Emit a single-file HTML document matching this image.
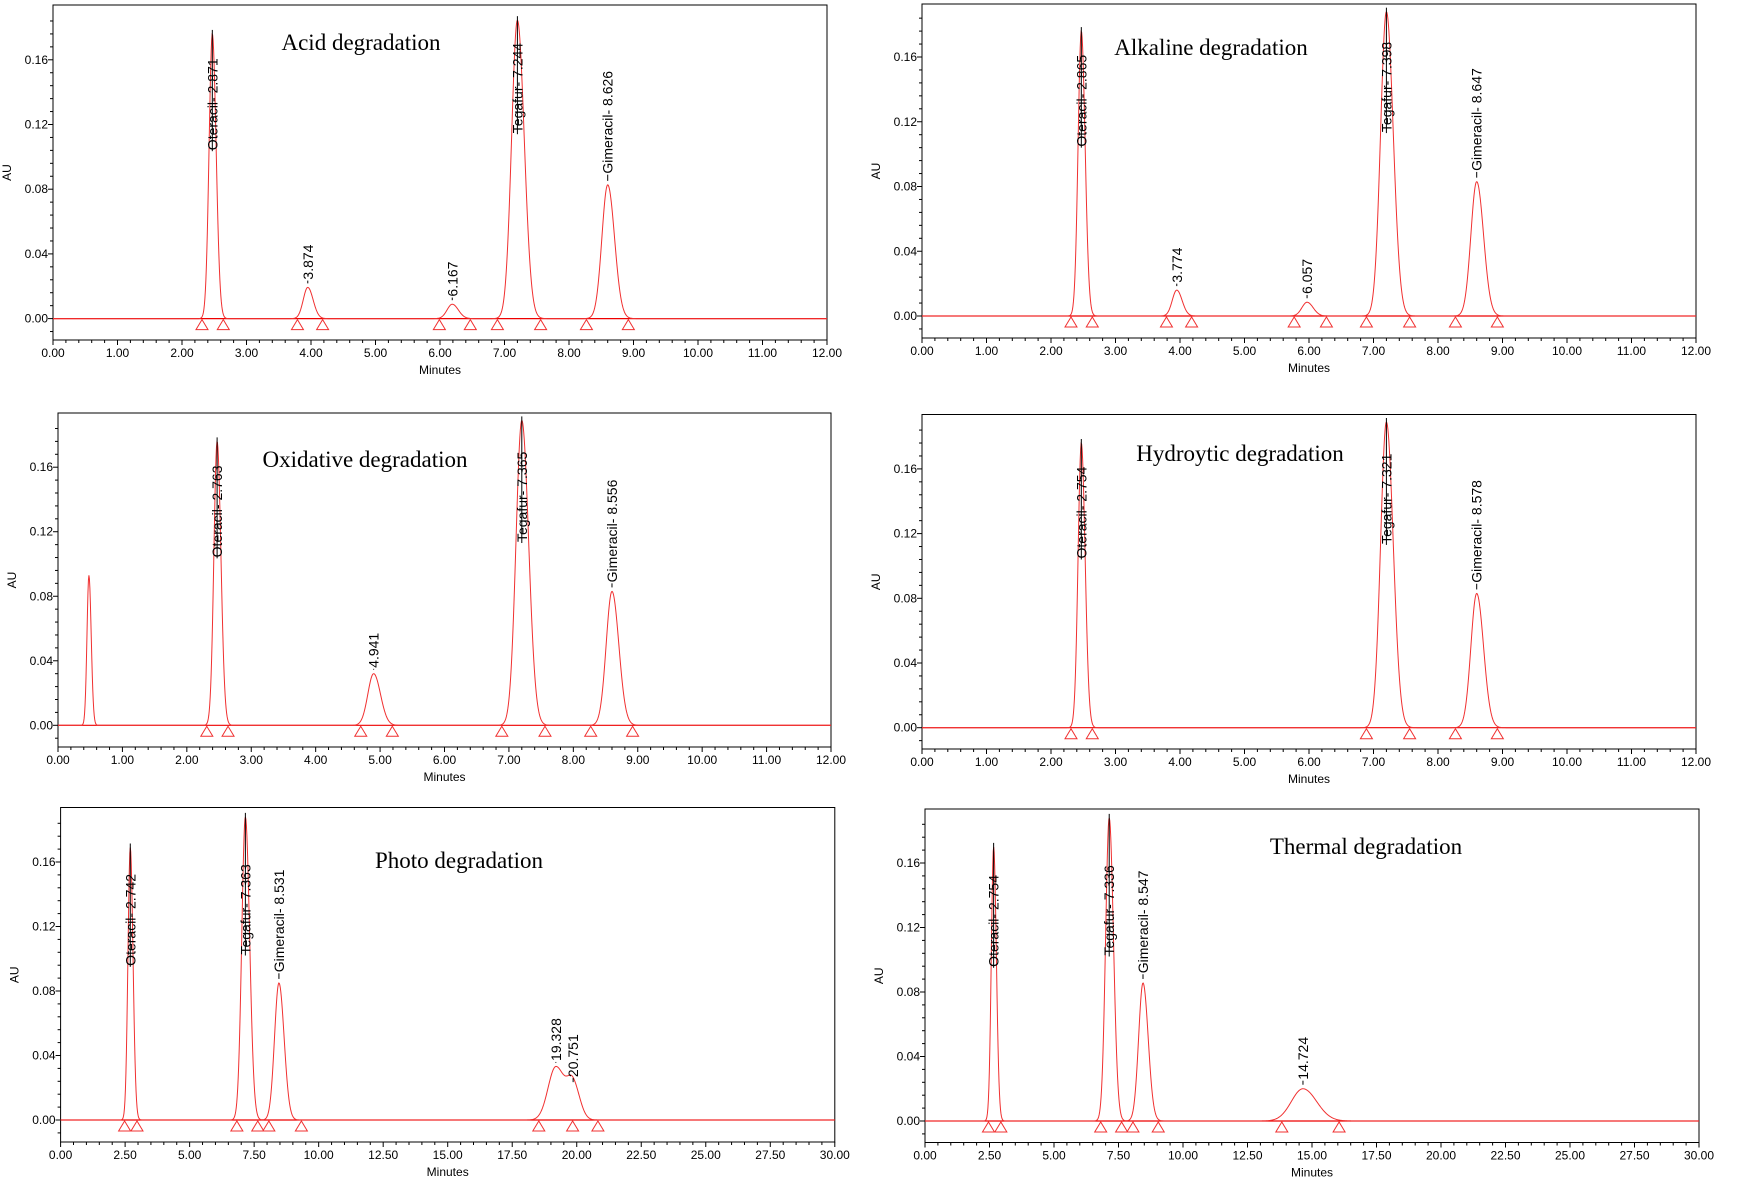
<!DOCTYPE html>
<html><head><meta charset="utf-8"><style>
html,body{margin:0;padding:0;background:#fff}
svg{display:block}
text{font-family:"Liberation Sans",Arial,sans-serif}
.title{font-family:"Liberation Serif","Times New Roman",serif;font-size:23px}
</style></head><body>
<svg id="chart" width="1738" height="1193" viewBox="0 0 1738 1193" xmlns="http://www.w3.org/2000/svg"></svg>
<script>
// ---- data (retention positions in minutes, heights in AU) ----
const acidTimes=[2.47,3.95,6.19,7.2,8.6];
const acidHeights=[0.176,0.0193,0.0089,0.1845,0.0827];
const acidSigmas=[0.05,0.07,0.08,0.09,0.09];
const acidLabels=["Oteracil- 2.871","3.874","6.167","Tegafur- 7.244","Gimeracil- 8.626"];
const acidLabelAU=[0.1035,0.0235,0.013,0.114,0.089];
const acidMarks=[2.31,2.64,3.79,4.18,5.99,6.47,6.89,7.56,8.27,8.92];

const alkTimes=[2.47,3.95,5.97,7.2,8.6];
const alkHeights=[0.176,0.016,0.0085,0.188,0.083];
const alkSigmas=[0.05,0.07,0.08,0.09,0.09];
const alkLabels=["Oteracil- 2.865","3.774","6.057","Tegafur- 7.398","Gimeracil- 8.647"];
const alkLabelAU=[0.104,0.02,0.013,0.113,0.089];
const alkMarks=[2.31,2.64,3.79,4.18,5.77,6.27,6.89,7.56,8.27,8.92];

const oxTimes=[0.48,2.47,4.9,7.2,8.6];
const oxHeights=[0.093,0.176,0.032,0.189,0.083];
const oxSigmas=[0.03,0.05,0.09,0.09,0.09];
const oxLabels=["","Oteracil- 2.763","4.941","Tegafur- 7.365","Gimeracil- 8.556"];
const oxLabelAU=[0,0.1035,0.035,0.113,0.088];
const oxMarks=[2.31,2.64,4.7,5.19,6.89,7.56,8.27,8.92];

const hydTimes=[2.47,7.2,8.6];
const hydHeights=[0.176,0.189,0.083];
const hydSigmas=[0.05,0.09,0.09];
const hydLabels=["Oteracil- 2.754","Tegafur- 7.321","Gimeracil- 8.578"];
const hydLabelAU=[0.104,0.113,0.089];
const hydMarks=[2.31,2.64,6.89,7.56,8.27,8.92];

const phoTimes=[2.70,7.16,8.46,19.19,19.86];
const phoHeights=[0.169,0.188,0.085,0.033,0.021];
const phoSigmas=[0.09,0.14,0.17,0.3,0.22];
const phoLabels=["Oteracil- 2.742","Tegafur- 7.363","Gimeracil- 8.531","19.328","20.751"];
const phoLabelAU=[0.095,0.102,0.091,0.036,0.026];
const phoMarks=[2.48,2.96,6.83,7.64,8.07,9.33,18.53,19.84,20.82];

const therTimes=[2.66,7.14,8.45,14.65];
const therHeights=[0.170,0.188,0.0856,0.020];
const therSigmas=[0.09,0.14,0.17,0.45];
const therLabels=["Oteracil- 2.754","Tegafur- 7.336","Gimeracil- 8.547","14.724"];
const therLabelAU=[0.095,0.102,0.091,0.025];
const therMarks=[2.46,2.94,6.81,7.62,8.06,9.04,13.83,16.05];

const yTicks=[0,0.04,0.08,0.12,0.16];
const xTicks12=[0,1,2,3,4,5,6,7,8,9,10,11,12];
const xTicks30=[0,2.5,5,7.5,10,12.5,15,17.5,20,22.5,25,27.5,30];

// ---- layout ----
const panels=[
 {name:"acid",title:"Acid degradation",tx:361,ty:50,L:53,R:827,T:5,B:340,Z:318.6,Y16:59.8,xmax:12,ticks:xTicks12,minor:0.2,t:acidTimes,h:acidHeights,s:acidSigmas,lab:acidLabels,la:acidLabelAU,m:acidMarks},
 {name:"alkaline",title:"Alkaline degradation",tx:1211,ty:55,L:922,R:1696,T:4,B:338,Z:316,Y16:57,xmax:12,ticks:xTicks12,minor:0.2,t:alkTimes,h:alkHeights,s:alkSigmas,lab:alkLabels,la:alkLabelAU,m:alkMarks},
 {name:"oxidative",title:"Oxidative degradation",tx:365,ty:467,L:58,R:831,T:413,B:747,Z:725.3,Y16:467.2,xmax:12,ticks:xTicks12,minor:0.2,t:oxTimes,h:oxHeights,s:oxSigmas,lab:oxLabels,la:oxLabelAU,m:oxMarks},
 {name:"hydrolytic",title:"Hydroytic degradation",tx:1240,ty:461,L:922,R:1696,T:414.5,B:749,Z:727.7,Y16:468.9,xmax:12,ticks:xTicks12,minor:0.2,t:hydTimes,h:hydHeights,s:hydSigmas,lab:hydLabels,la:hydLabelAU,m:hydMarks},
 {name:"photo",title:"Photo degradation",tx:459,ty:868,L:60.6,R:834.8,T:807.5,B:1142,Z:1120,Y16:862,xmax:30,ticks:xTicks30,minor:0.5,t:phoTimes,h:phoHeights,s:phoSigmas,lab:phoLabels,la:phoLabelAU,m:phoMarks},
 {name:"thermal",title:"Thermal degradation",tx:1366,ty:854,L:925,R:1699,T:809,B:1142.5,Z:1121,Y16:863,xmax:30,ticks:xTicks30,minor:0.5,t:therTimes,h:therHeights,s:therSigmas,lab:therLabels,la:therLabelAU,m:therMarks}
];
const NS="http://www.w3.org/2000/svg";
const svg=document.getElementById('chart');
function mk(tag,attrs,parent){const e=document.createElementNS(NS,tag);for(const k in attrs)e.setAttribute(k,attrs[k]);(parent||svg).appendChild(e);return e;}

panels.forEach(p=>{
 const g=mk('g',{});
 
 
 const xS=v=>p.L+(v/p.xmax)*(p.R-p.L);
 const yS=v=>p.Z-(v/0.16)*(p.Z-p.Y16);
 const frame=mk('rect',{x:p.L,y:p.T,width:p.R-p.L,height:p.B-p.T,fill:'none',stroke:'#000','stroke-width':1},g);
 
 
 for(let v=-0.008;v<=0.19;v+=0.008){const y=yS(v);if(y<p.T||y>p.B)continue;const major=Math.abs(Math.round(v/0.04)*0.04-v)<1e-6;
  mk('line',{x1:p.L-(major?5:3),x2:p.L,y1:y,y2:y,stroke:'#000','stroke-width':1},g);}
 yTicks.forEach(v=>{const t=mk('text',{x:p.L-5,y:yS(v)+4,'font-size':12,'text-anchor':'end'},g);t.textContent=v.toFixed(2);
  });
 const au=mk('text',{x:0,y:0,'font-size':12,'text-anchor':'middle',transform:`translate(${p.L-42},${(p.T+p.B)/2}) rotate(-90)`},g);au.textContent='AU';
 
 for(let v=0;v<=p.xmax+1e-6;v+=p.minor){const x=xS(v);const major=p.ticks.some(tk=>Math.abs(tk-v)<1e-6);
  mk('line',{x1:x,x2:x,y1:p.B,y2:p.B+(major?5:3),stroke:'#000','stroke-width':1},g);}
 p.ticks.forEach(v=>{const t=mk('text',{x:xS(v),y:p.B+17,'font-size':12,'text-anchor':'middle'},g);t.textContent=v.toFixed(2);
  });
 const mt=mk('text',{x:(p.L+p.R)/2,y:p.B+34,'font-size':12,'text-anchor':'middle'},g);mt.textContent='Minutes';
 
 const bl=mk('line',{x1:p.L,x2:p.R,y1:yS(0),y2:yS(0),stroke:'#e00','stroke-width':1.2},g);
 
 let d='';const N=1600;
 for(let i=0;i<=N;i++){const tm=p.xmax*i/N;let v=0;for(let k=0;k<p.t.length;k++){const z=(tm-p.t[k])/p.s[k]*(tm>p.t[k]?0.85:1);v+=p.h[k]*Math.exp(-0.5*z*z);}
  d+=(i?'L':'M')+xS(tm).toFixed(2)+' '+yS(v).toFixed(2);}
 const tr=mk('path',{d:d,fill:'none',stroke:'#f03030','stroke-width':1},g);
 
 p.t.forEach((tm,k)=>{if(!p.lab[k])return;const x=xS(tm);
  const ln=mk('line',{x1:x,x2:x,y1:yS(p.h[k])-4,y2:yS(p.la[k]),stroke:'#000','stroke-width':1},g);
  
  const t=mk('text',{x:0,y:0,'font-size':14,'dominant-baseline':'central',transform:`translate(${x},${yS(p.la[k])-1}) rotate(-90)`},g);
  t.textContent=p.lab[k];});
 p.m.forEach(tm=>{const x=xS(tm),y=yS(0);
  const tri=mk('path',{d:`M${x} ${y+1}L${x-6} ${y+11}L${x+6} ${y+11}Z`,fill:'none',stroke:'#f03030','stroke-width':1},g);
  });
 const ti=mk('text',{x:p.tx,y:p.ty,'text-anchor':'middle',class:'title'},g);ti.textContent=p.title;
 
});
</script>
</body></html>
